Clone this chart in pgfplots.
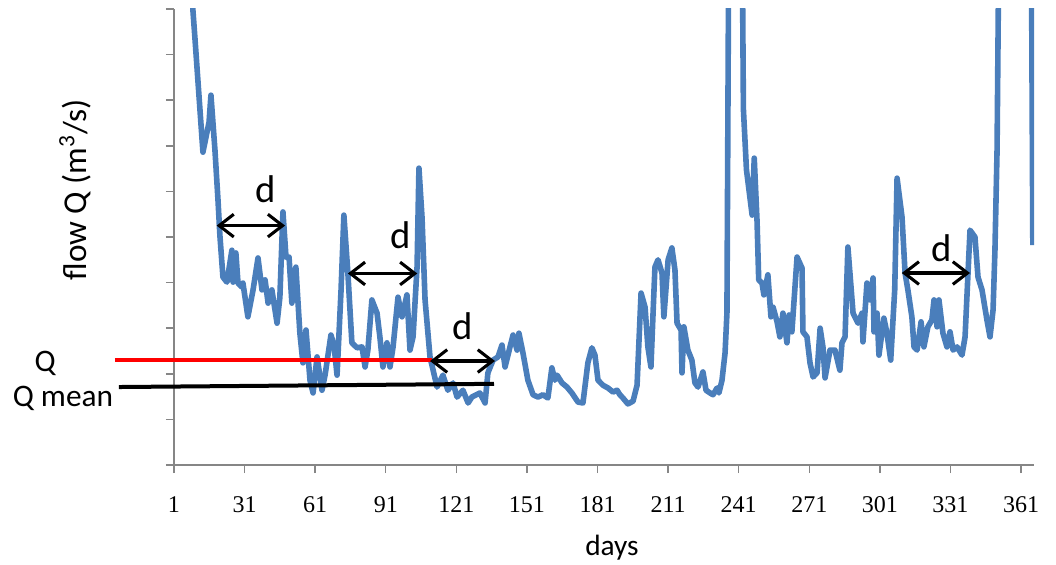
\documentclass[border=0pt]{standalone}
\usepackage{pgfplots}
\pgfplotsset{compat=1.18}
\usepackage{fontspec}
\setmainfont{Carlito}
\newfontfamily\tickfont{Liberation Serif}
\usetikzlibrary{arrows.meta}
\definecolor{flowblue}{HTML}{4A7EBB}
\definecolor{axisgray}{HTML}{868686}

\begin{document}
\begin{tikzpicture}
\useasboundingbox (-130.5pt,-74.25pt) rectangle (661.5pt,348.75pt);
\begin{axis}[
    at={(0pt,0pt)}, anchor=south west,
    scale only axis, width=645pt, height=342pt,
    xmin=1, xmax=366.5, ymin=0, ymax=10,
    axis x line=bottom, axis y line=left,
    axis line style={-, axisgray, line width=1.1pt},
    tick style={axisgray, line width=1.1pt},
    tick align=outside, major tick length=6pt,
    xtick={1,31,...,361},
    ytick={0,1,...,10}, yticklabels={},
    /pgf/number format/assume math mode=true,
    xticklabel style={font=\tickfont\fontsize{18}{18}\selectfont, text=black, yshift=-14pt},
    xlabel={days},
    xlabel style={at={(axis description cs:0.5093,-0.182)}, anchor=center,
        font=\fontsize{22}{22}\selectfont},
    ylabel={flow Q (m\textsuperscript{3}/s)},
    ylabel style={at={(axis description cs:-0.1151,0.603)}, anchor=center,
        font=\fontsize{25}{25}\selectfont},
    clip mode=individual,
]
% daily flow
\addplot[flowblue, line width=4.2pt, line join=round] coordinates {
(7,22) (8,20) (9,10.0) (9.9,9.36) (13.3,6.86) (15.9,7.52) (16.7,8.11)
(18.4,6.91) (19.7,5.81) (20.5,5.04) (21.8,4.12) (23.5,4.01) (25.6,4.71)
(26.1,4.01) (27.3,4.65) (28.2,3.99) (29.9,3.90) (30.3,3.99) (32.4,3.25)
(34.6,3.84) (36.7,4.54) (38.4,3.84) (39.7,4.06) (41.0,3.55) (42.6,3.84)
(44.8,3.11) (46.0,3.68) (47.3,5.55) (48.6,4.56) (49.9,4.56) (51.1,3.55)
(52.8,4.34) (54.5,2.89) (55.8,2.24) (57.1,2.96) (58.8,1.86) (60.1,1.58)
(61.8,2.37) (63.9,1.64) (65.2,1.97) (67.7,2.85) (69.0,2.63) (70.3,1.97)
(72.0,3.84) (73.2,5.48) (74.9,4.21) (76.6,2.68) (78.8,2.57) (80.9,2.59)
(82.2,2.15) (83.4,2.52) (85.1,3.62) (87.3,3.33) (88.5,2.81) (89.8,2.15)
(91.5,2.68) (92.8,2.15) (94.1,2.59) (96.2,3.68) (97.9,3.25) (100.0,3.73)
(101.3,2.52) (102.6,2.81) (104.3,4.34) (105.1,6.51) (106.4,5.44) (107.7,3.62)
(109.8,2.37) (112.8,1.71) (115.3,1.97) (117.4,1.64) (119.6,1.80) (121.3,1.49)
(123.8,1.64) (126.0,1.36) (127.6,1.49) (131.0,1.58) (133.2,1.36) (134.4,2.02)
(136.6,2.30) (138.7,2.37) (140.4,2.63) (141.7,2.15) (143.8,2.59) (145.1,2.85)
(146.8,2.52) (147.6,2.89) (149.3,2.46) (151.4,1.86) (153.6,1.54) (155.7,1.49)
(157.8,1.54) (159.9,1.47) (161.6,2.13) (162.9,1.86) (163.8,1.97) (165.9,1.80)
(168.0,1.71) (170.1,1.58) (172.7,1.38) (174.8,1.36) (176.9,2.24) (178.6,2.57)
(179.9,2.41) (181.2,1.86) (183.3,1.75) (185.4,1.69) (187.6,1.60) (189.3,1.64)
(190.5,1.54) (191.8,1.47) (193.9,1.34) (196.1,1.40) (197.8,1.75) (199.5,3.77)
(201.2,3.46) (202.4,2.59) (203.7,2.15) (204.6,3.33) (205.4,4.34) (206.7,4.50)
(208.4,4.21) (209.2,3.25) (211.0,4.50) (212.6,4.76) (213.9,4.28) (214.8,3.11)
(216.5,2.96) (216.9,2.02) (217.7,3.03) (219.4,2.52) (221.1,2.30) (222.4,1.80)
(223.7,1.71) (225.8,2.04) (227.1,1.64) (228.8,1.58) (230.1,1.54) (231.8,1.69)
(232.6,1.58) (233.9,1.86) (235.2,2.46) (236.0,3.33) (237,14) (240,25)
(242,15) (243,7.8) (244.3,6.47) (246.7,5.48) (247.6,6.73) (248.8,5.34)
(249.5,4.06) (250.9,3.99) (251.7,3.73) (253.4,4.17) (254.7,3.25) (255.6,3.46)
(257.3,3.14) (258.5,2.81) (259.8,3.33) (261.5,2.68) (262.4,3.29) (263.6,2.92)
(265.8,4.56) (267.9,4.32) (268.3,2.92) (270.0,2.81) (271.3,2.24) (272.6,1.93)
(274.3,2.02) (275.6,3.00) (276.8,2.59) (277.7,1.91) (279.8,2.52) (281.9,2.52)
(284.0,2.08) (284.9,2.68) (286.2,2.81) (287.4,4.78) (289.6,3.33) (291.7,3.11)
(293.4,3.33) (293.8,2.70) (295.5,3.99) (296.8,3.62) (298.1,4.10) (298.5,2.92)
(299.8,3.33) (300.6,2.41) (302.7,3.22) (303.9,2.92) (305.6,2.30) (307.3,3.84)
(308.3,6.29) (310.4,5.44) (311.7,4.21) (312.9,3.84) (314.6,3.25) (315.5,2.59)
(316.8,2.52) (318.5,3.14) (319.7,2.59) (321.4,3.03) (323.1,3.18) (324.0,3.62)
(325.3,3.03) (326.1,3.62) (327.8,2.89) (329.5,2.59) (330.8,2.92) (332.1,2.52)
(333.8,2.59) (335.9,2.41) (337.2,2.81) (339.3,5.15) (341.4,5.00) (342.7,4.12)
(344.4,3.84) (346.5,3.18) (347.8,2.81) (349.1,3.40) (349.9,4.71) (350.8,6.91)
(352,14) (358,25) (365,15.5) (366,4.82)
};
% Q and Q mean levels
\draw[red, line width=3pt] (axis cs:-24.1,2.30) -- (axis cs:110.6,2.30);
\draw[black, line width=3pt] (axis cs:-22.4,1.71) -- (axis cs:137.0,1.78);
\node[anchor=base, font=\fontsize{23.5}{23.5}\selectfont] at (axis cs:-53.8,2.04) {Q};
\node[anchor=base, font=\fontsize{23.5}{23.5}\selectfont] at (axis cs:-46.2,1.29) {Q mean};
% durations d
\tikzset{darrow/.style={{Straight Barb[length=11pt,width=17pt]}-{Straight Barb[length=11pt,width=17pt]}, line width=2.3pt, black}}
\draw[darrow] (axis cs:19.1,5.25) -- (axis cs:48.2,5.25);
\draw[darrow] (axis cs:74.9,4.20) -- (axis cs:104.4,4.20);
\draw[darrow] (axis cs:109.8,2.28) -- (axis cs:137.4,2.28);
\draw[darrow] (axis cs:310.3,4.21) -- (axis cs:339.3,4.21);
\node[anchor=base, font=\fontsize{29}{29}\selectfont] at (axis cs:40.1,5.75) {d};
\node[anchor=base, font=\fontsize{29}{29}\selectfont] at (axis cs:97.5,4.75) {d};
\node[anchor=base, font=\fontsize{29}{29}\selectfont] at (axis cs:123.8,2.76) {d};
\node[anchor=base, font=\fontsize{29}{29}\selectfont] at (axis cs:327.4,4.46) {d};
\end{axis}
\end{tikzpicture}
\end{document}
